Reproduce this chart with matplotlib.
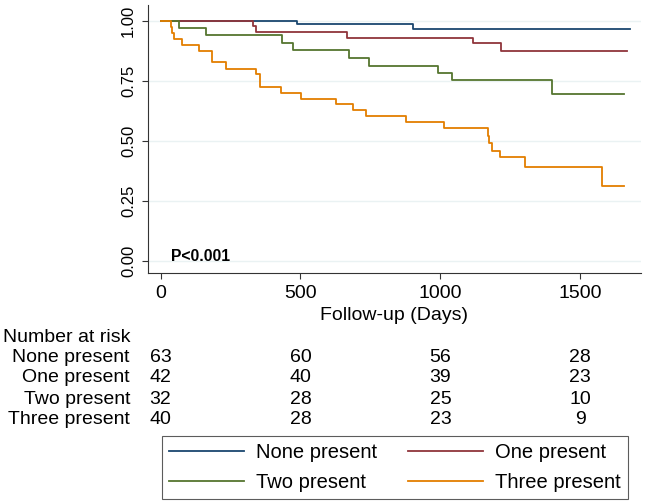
import matplotlib
matplotlib.use("Agg")
import matplotlib.pyplot as plt
import matplotlib.transforms as mtransforms
from matplotlib.lines import Line2D

plt.rcParams["font.family"] = ["Liberation Sans", "DejaVu Sans"]

# survival steps (days, survival)
none_t = [0, 486, 903, 1678]
none_s = [1.0, 0.984, 0.966, 0.966]
one_t = [0, 329, 341, 667, 1118, 1216, 1666]
one_s = [1.0, 0.976, 0.952, 0.929, 0.906, 0.872, 0.872]
two_t = [0, 67, 164, 434, 474, 672, 746, 990, 1043, 1400, 1656]
two_s = [1.0, 0.969, 0.938, 0.906, 0.877, 0.843, 0.811, 0.782, 0.752, 0.693, 0.693]
three_t = [0, 37, 41, 47, 77, 138, 183, 233, 341, 357, 431, 503, 627, 689, 734,
           876, 1013, 1169, 1175, 1183, 1213, 1304, 1579, 1656]
three_s = [1.0, 0.975, 0.95, 0.925, 0.90, 0.875, 0.826, 0.80, 0.777, 0.725, 0.70,
           0.675, 0.651, 0.627, 0.602, 0.577, 0.553, 0.52, 0.49, 0.458, 0.432,
           0.392, 0.313, 0.313]

groups = ["None present", "One present", "Two present", "Three present"]
colors = ["#1a476f", "#90353b", "#55752f", "#e37e00"]

risk_times = [0, 500, 1000, 1500]
at_risk = [
    [63, 60, 56, 28],
    [42, 40, 39, 23],
    [32, 28, 25, 10],
    [40, 28, 23, 9],
]

FS = 14
W, H = 645, 501
fig = plt.figure(figsize=(W / 100, H / 100), dpi=100)
ax = fig.add_axes([148 / W, 1 - 273 / H, (641 - 148) / W, (273 - 5) / H])

curves = [(none_t, none_s), (one_t, one_s), (two_t, two_s), (three_t, three_s)]
for (t, s), c in zip(curves, colors):
    ax.step(t, s, where="post", color=c, lw=1.3)

ax.set_xlim(-45, 1717)
ax.set_ylim(-0.051, 1.065)
ax.set_xticks(risk_times)
ax.set_yticks([0, 0.25, 0.5, 0.75, 1.0])
ax.set_yticklabels(["0.00", "0.25", "0.50", "0.75", "1.00"], rotation=90, va="center")
ax.tick_params(axis="x", labelsize=FS, length=4.5, color="#333333", pad=4.5)
ax.tick_params(axis="y", labelsize=12, length=4.5, color="#333333", pad=4)
ax.grid(axis="y", color="#eaf2f3", lw=1)
ax.set_axisbelow(True)
for side in ["top", "right"]:
    ax.spines[side].set_visible(False)
for side in ["left", "bottom"]:
    ax.spines[side].set_color("#333333")
ax.set_xlabel("Follow-up (Days)", fontsize=FS, labelpad=3.5)

ax.text(36, 0.017, "P<0.001", fontsize=11.3, fontweight="bold", va="center")

# number at risk table
trans = mtransforms.blended_transform_factory(ax.transData, fig.transFigure)
fig.text(3 / W, 1 - 337 / H, "Number at risk", fontsize=FS, va="center")
row_y = [357, 378, 400, 420]
for name, counts, y in zip(groups, at_risk, row_y):
    fig.text(130 / W, 1 - y / H, name, fontsize=FS, va="center", ha="right")
    for t, n in zip(risk_times, counts):
        ax.text(t, 1 - y / H, str(n), fontsize=FS, va="center", ha="center",
                transform=trans)

# legend fills column-wise, so order entries to read row-wise
order = [0, 2, 1, 3]
handles = [Line2D([], [], color=colors[i], lw=1.3) for i in order]
labels = [groups[i] for i in order]
leg = fig.legend(handles, labels, loc="center", ncol=2, fontsize=14.5,
                 bbox_to_anchor=(395 / W, 1 - 467.5 / H), frameon=True,
                 fancybox=False, edgecolor="#333333", handlelength=3.7,
                 handletextpad=0.6, columnspacing=1.55, labelspacing=0.56,
                 borderpad=0.35)
leg.get_frame().set_linewidth(0.8)

fig.savefig("out.png", dpi=100)
